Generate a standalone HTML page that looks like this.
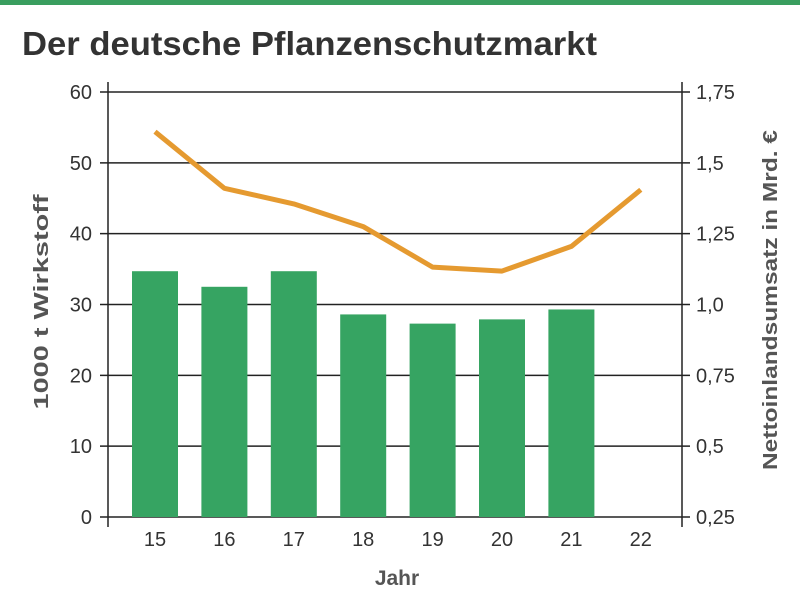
<!DOCTYPE html>
<html><head><meta charset="utf-8"><style>
body{margin:0;background:#fff;}
svg{display:block;font-family:"Liberation Sans",sans-serif;}
</style></head><body>
<svg width="800" height="607">
<rect x="0" y="0" width="800" height="5" fill="#3a9e5f"/>
<text x="22" y="55" font-size="33" font-weight="bold" fill="#333" textLength="575" lengthAdjust="spacingAndGlyphs">Der deutsche Pflanzenschutzmarkt</text>
<g id="plot"></g>
<text x="397" y="585" font-size="21" font-weight="bold" fill="#555" text-anchor="middle">Jahr</text>
<text transform="translate(48,302) rotate(-90)" font-size="20" font-weight="bold" fill="#555" text-anchor="middle" textLength="215" lengthAdjust="spacingAndGlyphs">1000 t Wirkstoff</text>
<text transform="translate(777,300) rotate(-90)" font-size="20" font-weight="bold" fill="#555" text-anchor="middle" textLength="340" lengthAdjust="spacingAndGlyphs">Nettoinlandsumsatz in Mrd. €</text>
</svg>
<script>
const categories=["15","16","17","18","19","20","21","22"];
const tonnage=[34.7,32.5,34.7,28.6,27.3,27.9,29.3,null];
const revenue=[1.61,1.41,1.355,1.275,1.132,1.118,1.205,1.405];
const leftTicks=[0,10,20,30,40,50,60];
const rightTicks=["0,25","0,5","0,75","1,0","1,25","1,5","1,75"];
const NS="http://www.w3.org/2000/svg";
const g=document.getElementById('plot');
const x0=108,x1=682,yTop=92,yBot=517;
const yL=v=>yBot-(v/60)*(yBot-yTop);
const yR=v=>yBot-((v-0.25)/1.5)*(yBot-yTop);
const xC=i=>155+i*69.4;
function mk(t,a){const e=document.createElementNS(NS,t);for(const k in a)e.setAttribute(k,a[k]);g.appendChild(e);return e;}
leftTicks.forEach((v,i)=>{
 const y=yL(v);
 const l=mk('line',{x1:x0-8,x2:x1+8,y1:y,y2:y,stroke:'#222','stroke-width':1.5});
 
 
 const t=mk('text',{x:x0-16,y:y+7,'font-size':20,fill:'#333','text-anchor':'end'});t.textContent=v;
 
 
 const r=mk('text',{x:x1+14,y:y+7,'font-size':20,fill:'#333'});r.textContent=rightTicks[i];
 
 
});
tonnage.forEach((v,i)=>{
 if(v==null)return;
 const b=mk('rect',{x:xC(i)-23,y:yL(v),width:46,height:yBot-yL(v),fill:'#36a462'});
 
 
});
const la=mk('line',{x1:x0,x2:x0,y1:82,y2:527,stroke:'#222','stroke-width':1.5});


const ra=mk('line',{x1:x1,x2:x1,y1:82,y2:527,stroke:'#222','stroke-width':1.5});


categories.forEach((c,i)=>{
 const t=mk('text',{x:xC(i),y:546,'font-size':20,fill:'#333','text-anchor':'middle'});t.textContent=c;
 
 
});
const p=mk('polyline',{points:revenue.map((v,i)=>xC(i)+','+yR(v)).join(' '),fill:'none',stroke:'#e59a30','stroke-width':5,'stroke-linejoin':'round'});


</script>
</body></html>
